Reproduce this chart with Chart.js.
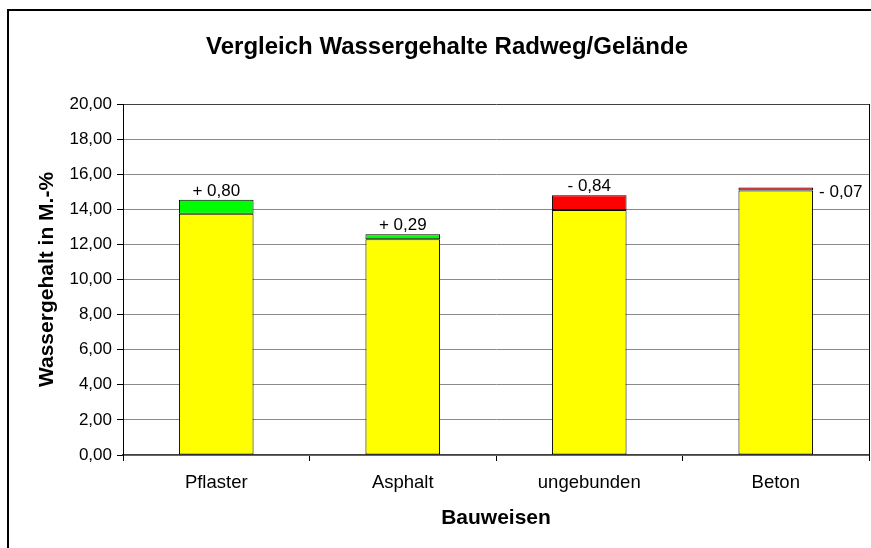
<!DOCTYPE html>
<html>
<head>
<meta charset="utf-8">
<script src="https://cdn.jsdelivr.net/npm/chart.js@4.4.0/dist/chart.umd.min.js"></script>
<style>
  html, body { margin: 0; padding: 0; background: #fff; overflow: hidden; }
  #wrap { position: relative; width: 871px; height: 548px; }
  #frame { position: absolute; left: 7px; top: 9px; width: 900px; height: 600px; border: 2px solid #000; box-sizing: border-box; }
  #c { position: absolute; left: 0; top: 0; }
</style>
</head>
<body>
<div id="wrap">
  <div id="frame"></div>
  <canvas id="c" width="871" height="548"></canvas>
</div>
<script>
const categories = ['Pflaster', 'Asphalt', 'ungebunden', 'Beton'];
const baseValues = [13.74, 12.29, 13.96, 15.07];
const diffValues = [0.80, 0.29, 0.84, 0.07];
const diffLabels = ['+ 0,80', '+ 0,29', '- 0,84', '- 0,07'];
const diffColors = ['#00FF00', '#00FF00', '#FF0000', '#FF0000'];
const yTicks = [0, 2, 4, 6, 8, 10, 12, 14, 16, 18, 20];

const FONT = "'Liberation Sans', Arial, sans-serif";

const labelPlugin = {
  id: 'diffLabels',
  afterDatasetsDraw(chart) {
    const meta = chart.getDatasetMeta(1);
    const ctx = chart.ctx;
    ctx.save();
    ctx.font = '17px ' + FONT;
    ctx.fillStyle = '#000';
    meta.data.forEach((bar, i) => {
      const h = Math.abs(bar.base - bar.y);
      if (h < 5) {
        ctx.textAlign = 'left';
        ctx.textBaseline = 'middle';
        ctx.fillText(diffLabels[i], bar.x + bar.width / 2 + 6, bar.y + 5);
      } else {
        ctx.textAlign = 'center';
        ctx.textBaseline = 'alphabetic';
        ctx.fillText(diffLabels[i], bar.x, bar.y - 4);
      }
    });
    ctx.restore();
  }
};

new Chart(document.getElementById('c'), {
  type: 'bar',
  data: {
    labels: categories,
    datasets: [
      {
        data: baseValues,
        backgroundColor: '#FFFF00',
        borderColor: '#000',
        borderWidth: 1,
        borderSkipped: false,
        categoryPercentage: 1,
        barPercentage: 0.4
      },
      {
        data: diffValues,
        backgroundColor: diffColors,
        borderColor: '#000',
        borderWidth: 1,
        borderSkipped: false,
        minBarLength: 3,
        categoryPercentage: 1,
        barPercentage: 0.4
      }
    ]
  },
  options: {
    responsive: false,
    animation: false,
    devicePixelRatio: 1,
    layout: { padding: { left: 24, right: 1, top: 0, bottom: 10 } },
    plugins: {
      legend: { display: false },
      tooltip: { enabled: false },
      title: {
        display: true,
        text: 'Vergleich Wassergehalte Radweg/Gelände',
        color: '#000',
        font: { family: FONT, size: 24, weight: 'bold', lineHeight: 1.2 },
        padding: { top: 32.6, bottom: 42.6 }
      }
    },
    scales: {
      x: {
        stacked: true,
        grid: { display: true, drawOnChartArea: false, drawTicks: true, tickLength: 6, color: '#000', offset: true },
        border: { display: true, color: '#404040', width: 1.5 },
        ticks: { color: '#000', font: { family: FONT, size: 18.5 }, padding: 11, maxRotation: 0 },
        title: {
          display: true,
          text: 'Bauweisen',
          color: '#000',
          font: { family: FONT, size: 21, weight: 'bold', lineHeight: 1.2 },
          padding: { top: 0, bottom: 7.4 }
        },
        afterFit(s) { s.height = 83; }
      },
      y: {
        stacked: true,
        min: 0,
        max: 20,
        afterBuildTicks(s) { s.ticks = yTicks.map(v => ({ value: v })); },
        grid: {
          color: ctx => (ctx.tick && ctx.tick.value === 20) ? '#404040' : '#8a8a8a',
          tickColor: '#000',
          tickLength: 6,
          lineWidth: 1
        },
        border: { display: true, color: '#000', width: 1 },
        ticks: {
          color: '#000',
          font: { family: FONT, size: 17 },
          padding: 5,
          callback: v => Number(v).toFixed(2).replace('.', ',')
        },
        title: {
          display: true,
          text: 'Wassergehalt in M.-%',
          color: '#000',
          font: { family: FONT, size: 21, weight: 'bold', lineHeight: 1.2 },
          padding: { top: 10.4, bottom: 0 }
        },
        afterFit(s) { s.width = 99; }
      },
      yRight: {
        position: 'right',
        display: true,
        min: 0,
        max: 1,
        grid: { drawOnChartArea: false, drawTicks: false },
        ticks: { display: false },
        border: { display: true, color: '#000', width: 1 },
        afterFit(s) { s.width = 1; }
      }
    }
  },
  plugins: [labelPlugin]
});
</script>
</body>
</html>
